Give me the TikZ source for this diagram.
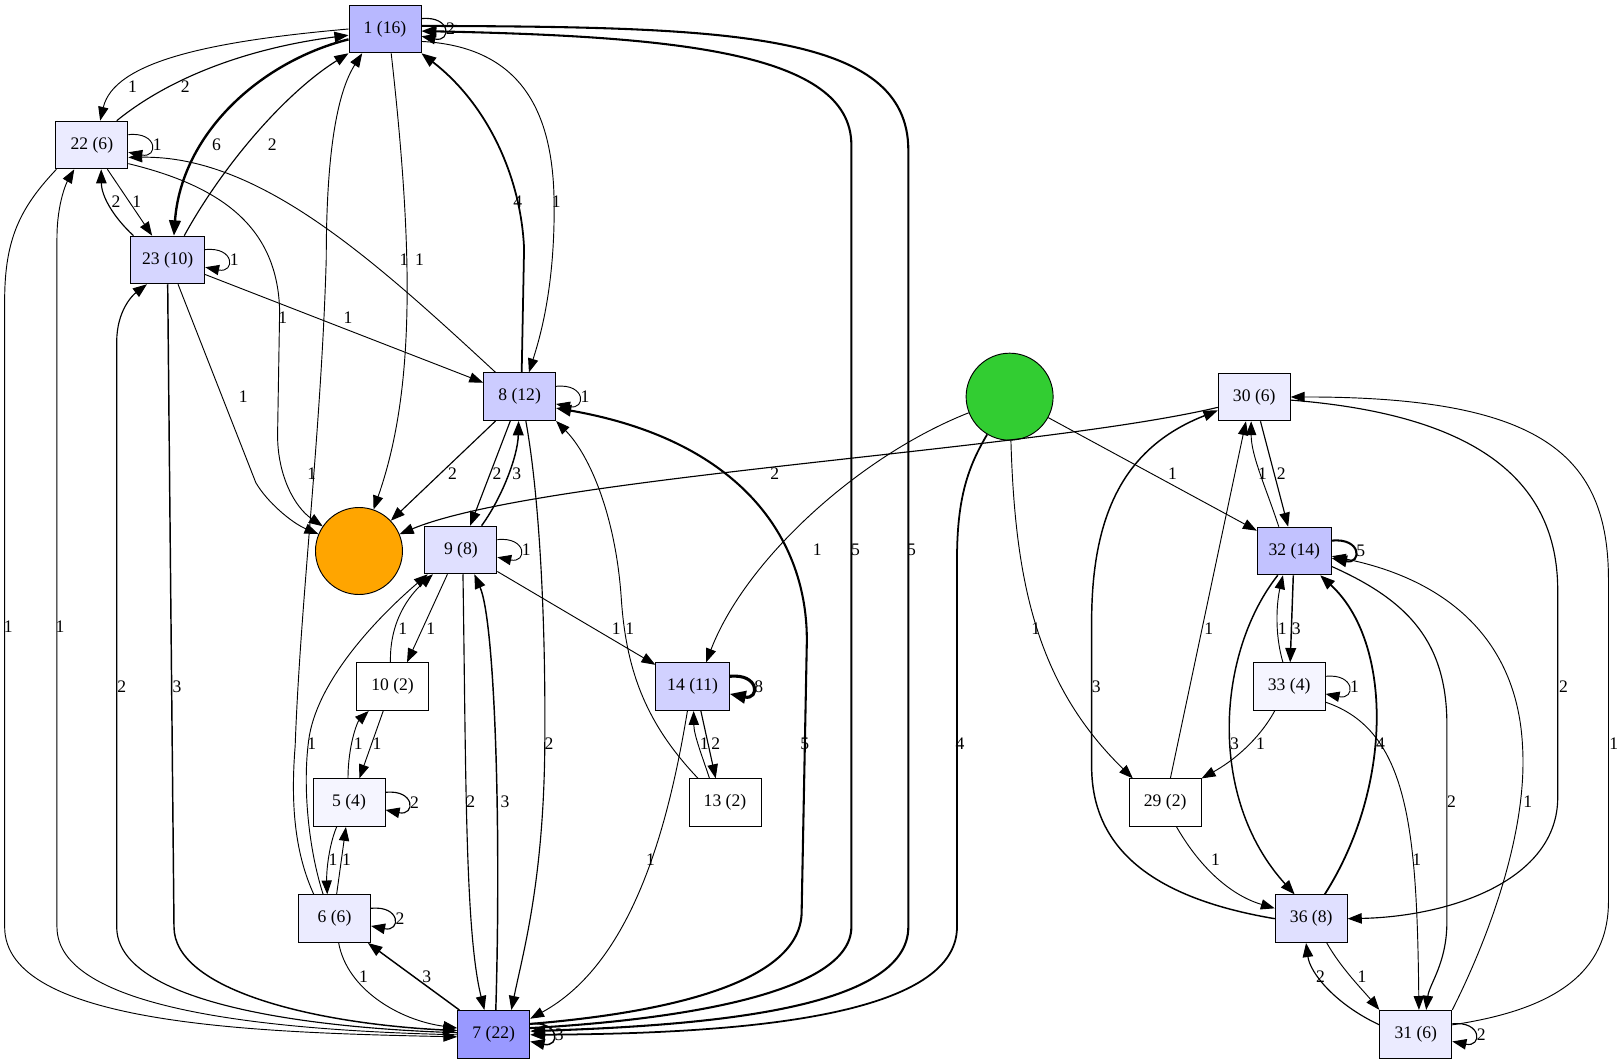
\documentclass[tikz,border=0pt]{standalone}
\usepackage{fontspec}
\setmainfont{Liberation Serif}
\usetikzlibrary{arrows.meta}
\definecolor{limeGreen}{HTML}{32CD32}
\definecolor{sinkOrange}{HTML}{FFA500}
\tikzset{
  state/.style={
    rectangle, draw, line width=0.9pt,
    minimum width=69.5pt, minimum height=46pt,
    inner xsep=11pt, inner ysep=0pt,
    font=\fontsize{17}{20}\selectfont
  },
  source/.style={circle, draw, line width=0.9pt, fill=limeGreen, minimum size=84pt, inner sep=0pt},
  sink/.style={circle, draw, line width=0.9pt, fill=sinkOrange, minimum size=84pt, inner sep=0pt},
  lbl/.style={font=\fontsize{17}{20}\selectfont, inner sep=0pt},
  w1/.style={line width=0.9pt, -{Triangle[length=12.5pt 1, width=9pt 1]}},
  w2/.style={w1, line width=1.1pt},
  w3/.style={w1, line width=1.4pt},
  w4/.style={w1, line width=1.7pt},
  w5/.style={w1, line width=2pt},
  w6/.style={w1, line width=2.3pt},
  w8/.style={w1, line width=3pt},
}

\begin{document}
\begin{tikzpicture}[x=1pt, y=-1pt]
  \useasboundingbox (0,0) rectangle (1568,1027);

  % states, filled by count
  \node[state, fill=blue!28] (n1) at (371.7,28) {1 (16)};
  \node[state, fill=blue!8] (n22) at (88.7,140) {22 (6)};
  \node[state, fill=blue!16] (n23) at (161.9,251) {23 (10)};
  \node[state, fill=blue!20] (n8) at (501.7,383) {8 (12)};
  \node[state, fill=blue!12] (n9) at (445,531) {9 (8)};
  \node[sink] (stop) at (346.6,532) {};
  \node[source] (start) at (974.8,383) {};
  \node[state, fill=white] (n10) at (379,663) {10 (2)};
  \node[state, fill=blue!4] (n5) at (337,775) {5 (4)};
  \node[state, fill=blue!8] (n6) at (323,887) {6 (6)};
  \node[state, fill=blue!40] (n7) at (476.7,998.6) {7 (22)};
  \node[state, fill=blue!18] (n14) at (668.7,663) {14 (11)};
  \node[state, fill=white] (n13) at (700,775) {13 (2)};
  \node[state, fill=blue!8] (n30) at (1211,383.3) {30 (6)};
  \node[state, fill=blue!24] (n32) at (1249.7,532) {32 (14)};
  \node[state, fill=blue!4] (n33) at (1244.7,663) {33 (4)};
  \node[state, fill=white] (n29) at (1125,775) {29 (2)};
  \node[state, fill=blue!12] (n36) at (1266,887) {36 (8)};
  \node[state, fill=blue!8] (n31) at (1367,998.5) {31 (6)};

  % self loops
  \foreach \nd/\wt/\lw in {n1/2/w2, n22/1/w1, n23/1/w1, n8/1/w1, n9/1/w1, n14/8/w8,
      n32/5/w5, n33/1/w1, n5/2/w2, n6/2/w2, n7/3/w3, n31/2/w2}
    \draw[\lw] ([yshift=10pt]\nd.east) .. controls +(29,-3) and +(29,6) .. ([yshift=-7pt]\nd.east)
      node[lbl] at ([xshift=28pt]\nd.east) {\wt};

  % around 1
  \draw[w1] (n1.west) .. controls (200,40) and (110,60) .. ([xshift=8pt]n22.north) node[lbl] at (128,84) {1};
  \draw[w2] ([xshift=24pt]n22.north) .. controls (170,70) and (250,45) .. ([yshift=-6pt]n1.west) node[lbl] at (179,84) {2};
  \draw[w6] ([yshift=-10pt]n1.west) .. controls (250,60) and (175,130) .. ([xshift=6pt]n23.north) node[lbl] at (209,140) {6};
  \draw[w2] ([xshift=16pt]n23.north) .. controls (215,160) and (275,90) .. (n1.south west) node[lbl] at (263,140) {2};
  \draw[w1] ([xshift=6pt]n1.south) .. controls (400,250) and (400,380) .. (stop) node[lbl] at (405,251) {1};
  \draw[w4] ([xshift=2pt]n8.north) -- (506,240) .. controls (503,170) and (470,100) .. (n1.south east) node[lbl] at (500,195) {4};
  \draw[w1] ([yshift=-12pt]n1.east) .. controls (505,45) and (534,110) .. (535,195)
    .. controls (536,280) and (520,330) .. ([xshift=9pt]n8.north) node[lbl] at (537,195) {1};
  \draw[w5] ([yshift=6pt]n7.east) .. controls (650,985) and (822,960) .. (822,895) -- (822,140)
    .. controls (822,50) and (650,35) .. ([yshift=-2pt]n1.east) node[lbl] at (826,531) {5};
  \draw[w5] ([yshift=3pt]n1.east) .. controls (700,26) and (877,30) .. (877,145) -- (877,895)
    .. controls (877,975) and (680,990) .. ([yshift=3pt]n7.east) node[lbl] at (880,531) {5};

  % 22 and 23
  \draw[w1] ([xshift=15pt]n22.south) -- ([xshift=-15pt]n23.north) node[lbl] at (132,195) {1};
  \draw[w2] ([xshift=-33pt]n23.north) .. controls (110,210) and (98,190) .. ([xshift=9pt]n22.south) node[lbl] at (112,195) {2};
  \draw[w1] ([xshift=12pt]n8.north west) .. controls (360,250) and (250,150) .. ([yshift=-12pt]n22.east) node[lbl] at (390,251) {1};
  \draw[w1] (n23) -- (n8) node[lbl] at (336,307) {1};
  \draw[w1] ([yshift=-18pt]n22.east) .. controls (215,180) and (268,220) .. (270,300) -- (268,420)
    .. controls (268,460) and (285,490) .. (stop) node[lbl] at (273,307) {1};
  \draw[w1] ([xshift=10pt]n23.south) -- (247,466) .. controls (258,485) and (282,505) .. (stop) node[lbl] at (235,383) {1};
  \draw[w1] ([xshift=1pt]n22.south west) .. controls (20,200) and (4.5,230) .. (4.5,290) -- (4.5,895)
    .. controls (4.5,990) and (250,997) .. ([yshift=-2.5pt]n7.west) node[lbl] at (8,605) {1};
  \draw[w1] ([yshift=-0.5pt]n7.west) .. controls (260,995) and (55,975) .. (55,895) -- (55,230)
    .. controls (55,195) and (65,175) .. ([xshift=-17pt]n22.south) node[lbl] at (58,605) {1};
  \draw[w2] ([yshift=1.5pt]n7.west) .. controls (280,992) and (112.7,965) .. (112.7,895) -- (112.7,330)
    .. controls (112.7,300) and (128,285) .. ([xshift=-20pt]n23.south) node[lbl] at (117.5,663) {2};
  \draw[w3] (n23.south) -- (168,895) .. controls (168,955) and (300,988) .. ([yshift=3.5pt]n7.west) node[lbl] at (171,663) {3};
  \draw[w1] ([xshift=-20pt]n6.north) .. controls (283,820) and (281,770) .. (285,720)
    .. controls (290,580) and (310,420) .. (315,250)
    .. controls (315,150) and (325,90) .. ([xshift=-22pt]n1.south) node[lbl] at (301,457) {1};

  % 8 and 9
  \draw[w2] ([xshift=12pt]n8.south west) -- (stop) node[lbl] at (437,457) {2};
  \draw[w2] ([yshift=-10pt]n30.west) .. controls (1000,435) and (520,460) .. (stop) node[lbl] at (748,457) {2};
  \draw[w2] ([xshift=-9pt]n8.south) -- ([xshift=9pt]n9.north) node[lbl] at (480,457) {2};
  \draw[w3] ([xshift=20pt]n9.north) .. controls (485,480) and (500,440) .. ([xshift=-1pt]n8.south) node[lbl] at (499,457) {3};
  \draw[w2] ([xshift=6pt]n8.south) .. controls (521,480) and (527,600) .. (526,720)
    .. controls (525,850) and (505,920) .. ([xshift=17pt]n7.north) node[lbl] at (530,718) {2};
  \draw[w5] ([yshift=10pt]n7.east) .. controls (640,978) and (774,950) .. (774,880) -- (779,620)
    .. controls (780,520) and (715,425) .. ([yshift=-11pt]n8.east) node[lbl] at (777,718) {5};
  \draw[w1] ([xshift=-26pt]n13.north) .. controls (625,700) and (605,650) .. (600,580)
    .. controls (595,500) and (570,440) .. (n8.south east) node[lbl] at (608,607) {1};
  \draw[w1] (n9) -- (n14) node[lbl] at (595,607) {1};
  \draw[w1] (start) .. controls (830,440) and (720,540) .. ([xshift=13pt]n14.north) node[lbl] at (789,531) {1};

  % 14 and 13
  \draw[w2] ([xshift=8pt]n14.south) -- ([xshift=-9pt]n13.north) node[lbl] at (691,718) {2};
  \draw[w1] ([xshift=-15pt]n13.north) .. controls (678,730) and (670,710) .. ([xshift=1pt]n14.south) node[lbl] at (680,718) {1};
  \draw[w1] ([xshift=-5pt]n14.south) .. controls (645,800) and (610,930) .. ([yshift=15pt]n7.east) node[lbl] at (628,830) {1};

  % 9, 10, 5, 6
  \draw[w1] ([xshift=-13pt]n9.south) -- ([xshift=14pt]n10.north) node[lbl] at (416,607) {1};
  \draw[w1] ([xshift=-2pt]n10.north) .. controls (376,600) and (395,575) .. ([xshift=-27pt]n9.south) node[lbl] at (389,607) {1};
  \draw[w1] ([xshift=-11pt]n6.north) .. controls (298,820) and (292,760) .. (298,715)
    .. controls (305,660) and (360,600) .. ([xshift=-32pt]n9.south) node[lbl] at (301,718) {1};
  \draw[w1] ([xshift=-9pt]n10.south) -- ([xshift=10pt]n5.north) node[lbl] at (364,718) {1};
  \draw[w1] ([xshift=-1pt]n5.north) .. controls (336,720) and (345,697) .. ([xshift=-23pt]n10.south) node[lbl] at (346,718) {1};
  \draw[w1] ([xshift=-12pt]n5.south) .. controls (318,815) and (315,840) .. ([xshift=-7pt]n6.north) node[lbl] at (321.5,830) {1};
  \draw[w1] ([xshift=2pt]n6.north) -- ([xshift=-3pt]n5.south) node[lbl] at (334.5,830) {1};
  \draw[w1] ([xshift=4pt]n6.south) .. controls (335,955) and (385,985) .. ([yshift=6pt]n7.west) node[lbl] at (351,943) {1};
  \draw[w3] ([xshift=2pt]n7.north west) -- ([xshift=-3pt]n6.south east) node[lbl] at (412,943) {3};
  \draw[w2] ([xshift=2pt]n9.south) .. controls (450,750) and (449,900) .. ([xshift=-9pt]n7.north) node[lbl] at (454.5,774) {2};
  \draw[w3] ([xshift=2pt]n7.north) .. controls (484,800) and (478,600) .. ([xshift=13pt]n9.south) node[lbl] at (487.5,774) {3};
  \draw[w4] (start) .. controls (935,450) and (924,480) .. (924,540) -- (924,895)
    .. controls (924,985) and (700,998) .. ([yshift=-0.5pt]n7.east) node[lbl] at (927,718) {4};

  % right cluster
  \draw[w1] (start) .. controls (980,560) and (1000,660) .. ([xshift=4pt]n29.north west) node[lbl] at (1000,607) {1};
  \draw[w1] (start) -- (n32) node[lbl] at (1132,457) {1};
  \draw[w3] (n36.west) .. controls (1130,870) and (1054,830) .. (1054,740) -- (1054,600)
    .. controls (1054,490) and (1090,430) .. ([yshift=-13pt]n30.west) node[lbl] at (1058.5,663) {3};
  \draw[w1] ([xshift=5pt]n29.north) -- ([xshift=-8pt]n30.south) node[lbl] at (1167,607) {1};
  \draw[w1] ([xshift=-15pt]n32.north) .. controls (1222,470) and (1208,440) .. ([xshift=-3pt]n30.south) node[lbl] at (1219,457) {1};
  \draw[w2] ([xshift=6pt]n30.south) -- ([xshift=-6pt]n32.north) node[lbl] at (1237,457) {2};
  \draw[w3] ([xshift=-1pt]n32.south) -- ([xshift=1pt]n33.north) node[lbl] at (1251.5,607) {3};
  \draw[w1] ([xshift=-6pt]n33.north) .. controls (1230,610) and (1233,580) .. ([xshift=-11pt]n32.south) node[lbl] at (1238,607) {1};
  \draw[w1] ([xshift=-14pt]n33.south) .. controls (1215,715) and (1190,735) .. (n29.north east) node[lbl] at (1217,718) {1};
  \draw[w1] ([yshift=-15pt]n33.east) .. controls (1360,705) and (1368,800) .. ([xshift=3pt]n31.north) node[lbl] at (1368,830) {1};
  \draw[w3] ([xshift=-16pt]n32.south) .. controls (1175,630) and (1165,770) .. ([xshift=-16pt]n36.north) node[lbl] at (1192,718) {3};
  \draw[w4] ([xshift=13pt]n36.north) .. controls (1345,760) and (1345,620) .. ([xshift=25pt]n32.south) node[lbl] at (1333,718) {4};
  \draw[w2] ([yshift=-15pt]n32.east) .. controls (1360,580) and (1397,620) .. (1397,700) -- (1397,890)
    .. controls (1397,930) and (1380,950) .. ([xshift=10pt]n31.north) node[lbl] at (1401.5,774) {2};
  \draw[w1] (n31.north east) .. controls (1440,900) and (1475,800) .. (1470,720)
    .. controls (1465,620) and (1400,560) .. ([yshift=-5pt]n32.east) node[lbl] at (1475,774) {1};
  \draw[w2] ([yshift=-3pt]n30.east) .. controls (1420,400) and (1504,460) .. (1504,570) -- (1504,770)
    .. controls (1504,850) and (1400,885) .. (n36.east) node[lbl] at (1509.5,663) {2};
  \draw[w1] ([yshift=9pt]n31.east) .. controls (1500,975) and (1553,940) .. (1553,870) -- (1553,560)
    .. controls (1553,440) and (1490,383) .. (n30.east) node[lbl] at (1558,718) {1};
  \draw[w1] ([xshift=11pt]n29.south) .. controls (1160,840) and (1190,865) .. ([yshift=10pt]n36.west) node[lbl] at (1173.5,830) {1};
  \draw[w1] ([xshift=15pt]n36.south) .. controls (1295,935) and (1315,955) .. (n31.north west) node[lbl] at (1315,943) {1};
  \draw[w2] ([yshift=9pt]n31.west) .. controls (1290,970) and (1265,940) .. ([xshift=-5pt]n36.south) node[lbl] at (1275,943) {2};
\end{tikzpicture}
\end{document}
